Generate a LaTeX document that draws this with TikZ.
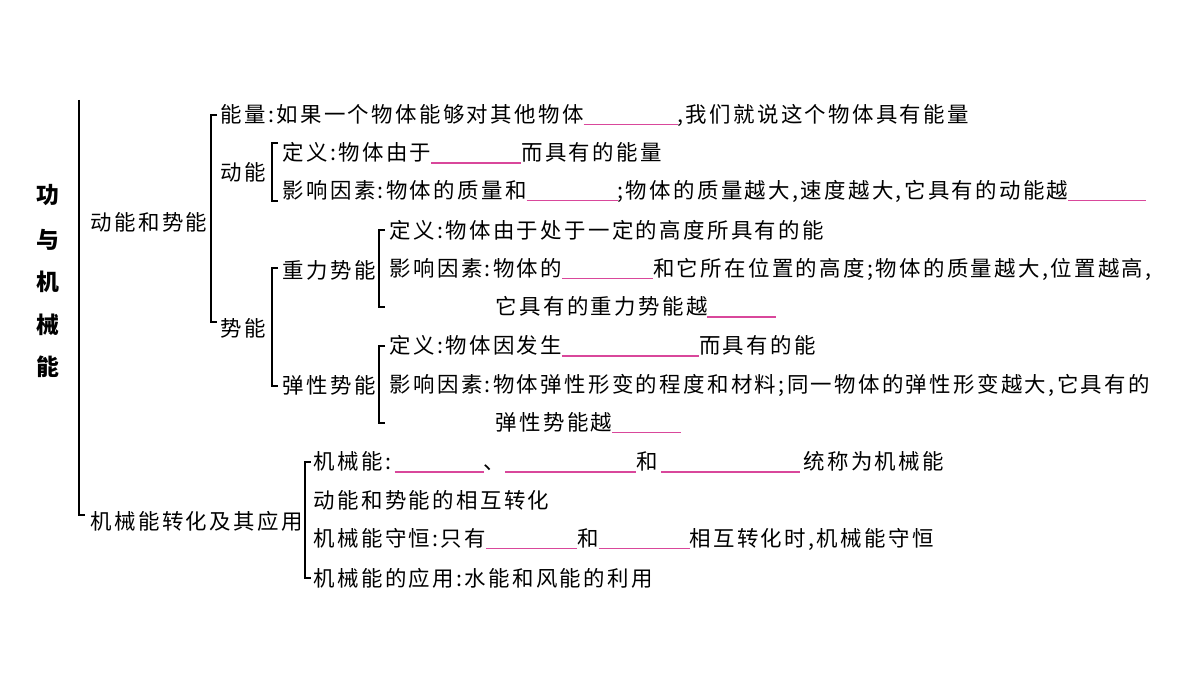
\documentclass[tikz,border=0pt]{standalone}
\usepackage{fontspec}
\setmainfont{Noto Sans CJK SC}[LetterSpace=11]
\usepackage{xcolor}
\definecolor{blankpink}{HTML}{D9479B}
\newcommand{\blank}[1]{\textcolor{blankpink}{\rule[-0.25ex]{#1}{0.6pt}}}

\begin{document}
\begin{tikzpicture}[x=0.02cm, y=-0.02cm, line width=0.8pt,
    txt/.style={anchor=west, inner sep=0pt, font=\fontsize{12.2}{14}\selectfont},
    ttl/.style={inner sep=0pt, font=\fontsize{13}{15}\selectfont\bfseries}]
    \useasboundingbox (0,0) rectangle (1200,675);

    % title
    \node[ttl] (t1) at (48,195) {功};
    \node[ttl] (t2) at (48,240) {与};
    \node[ttl] (t3) at (48,282) {机};
    \node[ttl] (t4) at (48,325) {械};
    \node[ttl] (t5) at (48,367) {能};

    % brackets
    \draw (79,100) -- (79,515) -- (85,515);
    \draw (217,115) -- (211,115) -- (211,322) -- (217,322);
    \draw (278,143) -- (272,143) -- (272,201) -- (278,201);
    \draw (278,268) -- (272,268) -- (272,386) -- (278,386);
    \draw (385,230) -- (379,230) -- (379,307) -- (385,307);
    \draw (385,346) -- (379,346) -- (379,423) -- (385,423);
    \draw (311,462) -- (305,462) -- (305,578) -- (311,578);

    % first branch
    \node[txt] (dnsn) at (90,222) {动能和势能};
    \node[txt] (nl) at (220,115) {能量:如果一个物体能够对其他物体\blank{1.88cm},我们就说这个物体具有能量};
    \node[txt] (dn) at (220,172) {动能};
    \node[txt] (dndy) at (282,153) {定义:物体由于\blank{1.8cm}而具有的能量};
    \node[txt] (dnyx) at (282,191) {影响因素:物体的质量和\blank{1.82cm};物体的质量越大,速度越大,它具有的动能越\blank{1.56cm}};
    \node[txt] (sn) at (220,328) {势能};
    \node[txt] (zl) at (282,270) {重力势能};
    \node[txt] (zldy) at (389,230) {定义:物体由于处于一定的高度所具有的能};
    \node[txt] (zlyx) at (389,269) {影响因素:物体的\blank{1.82cm}和它所在位置的高度;物体的质量越大,位置越高,};
    \node[txt] (zlyx2) at (495,307) {它具有的重力势能越\blank{1.38cm}};
    \node[txt] (tx) at (282,385) {弹性势能};
    \node[txt] (txdy) at (389,346) {定义:物体因发生\blank{2.74cm}而具有的能};
    \node[txt] (txyx) at (389,385) {影响因素:物体弹性形变的程度和材料;同一物体的弹性形变越大,它具有的};
    \node[txt] (txyx2) at (495,423) {弹性势能越\blank{1.38cm}};

    % second branch
    \node[txt] (jx) at (90,521) {机械能转化及其应用};
    \node[txt] (jx1) at (313,462) {机械能:\,\blank{1.78cm}、\blank{2.62cm}和\,\blank{2.78cm}\,统称为机械能};
    \node[txt] (jx2) at (313,500) {动能和势能的相互转化};
    \node[txt] (jx3) at (313,539) {机械能守恒:只有\blank{1.82cm}和\blank{1.82cm}相互转化时,机械能守恒};
    \node[txt] (jx4) at (313,578) {机械能的应用:水能和风能的利用};
\end{tikzpicture}
\end{document}
